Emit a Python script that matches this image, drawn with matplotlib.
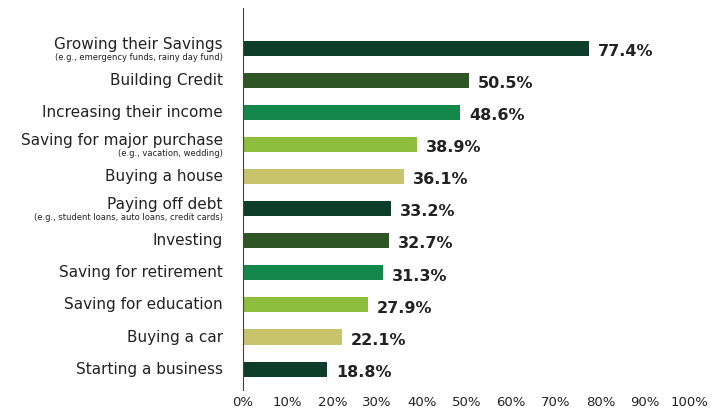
import matplotlib.pyplot as plt

categories = ["Growing their Savings", "Building Credit", "Increasing their income",
              "Saving for major purchase", "Buying a house", "Paying off debt", "Investing",
              "Saving for retirement", "Saving for education", "Buying a car", "Starting a business"]
subs = ["(e.g., emergency funds, rainy day fund)", "", "", "(e.g., vacation, wedding)", "",
        "(e.g., student loans, auto loans, credit cards)", "", "", "", "", ""]
values = [77.4, 50.5, 48.6, 38.9, 36.1, 33.2, 32.7, 31.3, 27.9, 22.1, 18.8]
palette = ["#0e3d2b", "#2f5526", "#14884a", "#8dbd3c", "#c8c46c"]
ticks = list(range(0, 101, 10))

fig = plt.figure(figsize=(7.23, 4.2), dpi=100)
ax = fig.add_axes([243/723, 30/420, 447/723, 382/420])
n = len(values)
ys = list(range(n))[::-1]
for i, (y, v) in enumerate(zip(ys, values)):
    ax.barh(y, v, height=0.47, color=palette[i % 5], left=0)
    ax.text(v + 2, y - 0.1, f"{v}%", va="center", ha="left", fontsize=11.5, fontweight="bold", color="#222")
    if subs[i]:
        ax.text(-4.5, y + 0.12, categories[i], ha="right", va="center", fontsize=11, color="#222")
        ax.text(-4.5, y - 0.28, subs[i], ha="right", va="center", fontsize=6, color="#222")
    else:
        ax.text(-4.5, y, categories[i], ha="right", va="center", fontsize=11, color="#222")
ax.set_xlim(0, 100)
ax.set_ylim(-0.65, n - 0.35 + 0.6)
ax.set_yticks([])
ax.set_xticks(ticks)
ax.set_xticklabels([f"{t}%" for t in ticks], fontsize=9.5, color="#222")
ax.tick_params(axis="x", length=0, pad=4)
for s in ["top", "right", "bottom"]:
    ax.spines[s].set_visible(False)
ax.spines["left"].set_color("#444")
fig.savefig("out.png", dpi=100)
